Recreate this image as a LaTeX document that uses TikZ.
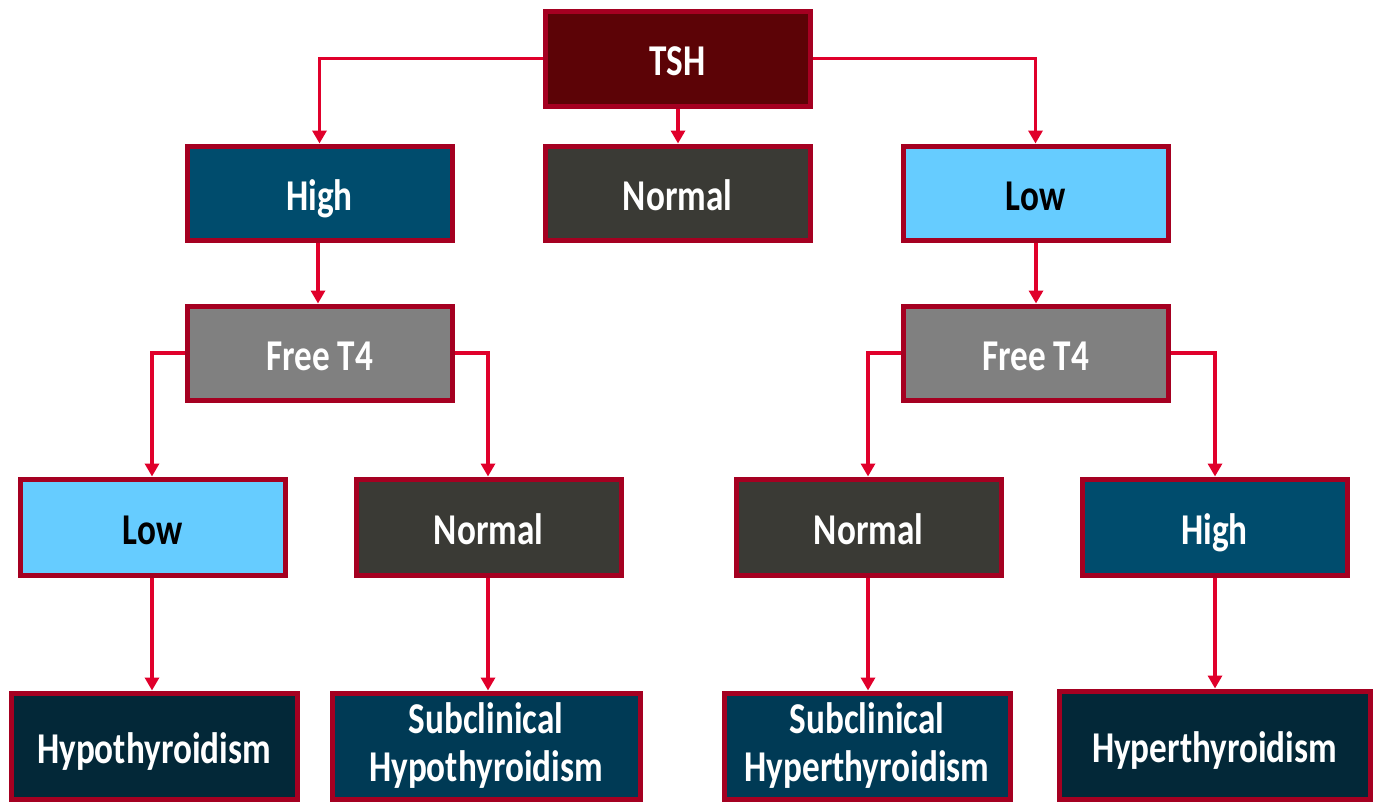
\documentclass[tikz,border=0pt]{standalone}
\usepackage{fontspec}
\setmainfont{Carlito}[FakeStretch=0.8]
\usetikzlibrary{arrows.meta}
\definecolor{bordercol}{HTML}{A50021}
\definecolor{linecol}{HTML}{E0002B}
\definecolor{tshcol}{HTML}{5C0306}
\definecolor{highcol}{HTML}{004C6D}
\definecolor{normcol}{HTML}{3A3A35}
\definecolor{lowcol}{HTML}{66CCFF}
\definecolor{freecol}{HTML}{808080}
\definecolor{diagcol}{HTML}{032838}
\definecolor{subcol}{HTML}{003A55}
\tikzset{
  box/.style={draw=bordercol, line width=5pt, rectangle, inner sep=0pt, align=center,
    text=white, font=\bfseries\fontsize{44}{48}\selectfont},
  oneline/.style={text height=34pt, text depth=0pt},
  conn/.style={draw=linecol, line width=3.6pt, -{Triangle[length=13pt,width=14pt]}}
}
\newcommand{\boxat}[8]{% name, x1, y1, x2, y2, fill, extra style, text
  \node[box, #7, fill=#6, minimum width={#4-#2}, minimum height={#5-#3}] (#1) at ({(#2+#4)/2},{(#3+#5)/2}) {#8};}
\begin{document}
\begin{tikzpicture}[x=1pt,y=-1pt]
\useasboundingbox (0,0) rectangle (1378,803);
\clip (0,0) rectangle (1378,803);
\boxat{tsh}{545}{11}{810}{106}{tshcol}{oneline}{TSH}
\boxat{high}{187}{146}{452}{240}{highcol}{oneline}{High}
\boxat{normal}{545}{146}{810}{240}{normcol}{oneline}{Normal}
\boxat{low}{903}{146}{1168}{240}{lowcol}{oneline}{\color{black}Low}
\boxat{ftl}{187}{306}{452}{400}{freecol}{oneline}{Free T4}
\boxat{ftr}{903}{306}{1168}{400}{freecol}{oneline}{Free T4}
\boxat{lowl}{20}{479}{285}{575}{lowcol}{oneline}{\color{black}Low}
\boxat{norml}{356}{479}{621}{575}{normcol}{oneline}{Normal}
\boxat{normr}{736}{479}{1001}{575}{normcol}{oneline}{Normal}
\boxat{highr}{1082}{479}{1347}{575}{highcol}{oneline}{High}
\boxat{hypo}{11}{693}{297}{799}{diagcol}{oneline}{Hypothyroidism}
\boxat{subhypo}{332}{693}{640}{799}{subcol}{}{Subclinical\\Hypothyroidism}
\boxat{subhyper}{724}{693}{1010}{799}{subcol}{}{Subclinical\\Hyperthyroidism}
\boxat{hyper}{1059}{691}{1370}{799}{diagcol}{oneline}{Hyperthyroidism}
\path[conn] (tsh.west) -| (high.north);
\path[conn] (tsh.east) -| (low.north);
\path[conn] (tsh.south -| 678,0) -- (normal.north -| 678,0);
\path[conn] (high.south -| 318,0) -- (ftl.north -| 318,0);
\path[conn] (low.south -| 1036,0) -- (ftr.north -| 1036,0);
\path[conn] (ftl.west) -| (lowl.north -| 152,0);
\path[conn] (ftl.east) -| (norml.north -| 488,0);
\path[conn] (ftr.west) -| (normr.north -| 868,0);
\path[conn] (ftr.east) -| (highr.north -| 1215,0);
\path[conn] (lowl.south -| 152,0) -- (hypo.north -| 152,0);
\path[conn] (norml.south -| 488,0) -- (subhypo.north -| 488,0);
\path[conn] (normr.south -| 868,0) -- (subhyper.north -| 868,0);
\path[conn] (highr.south -| 1215,0) -- (hyper.north -| 1215,0);
\end{tikzpicture}
\end{document}
